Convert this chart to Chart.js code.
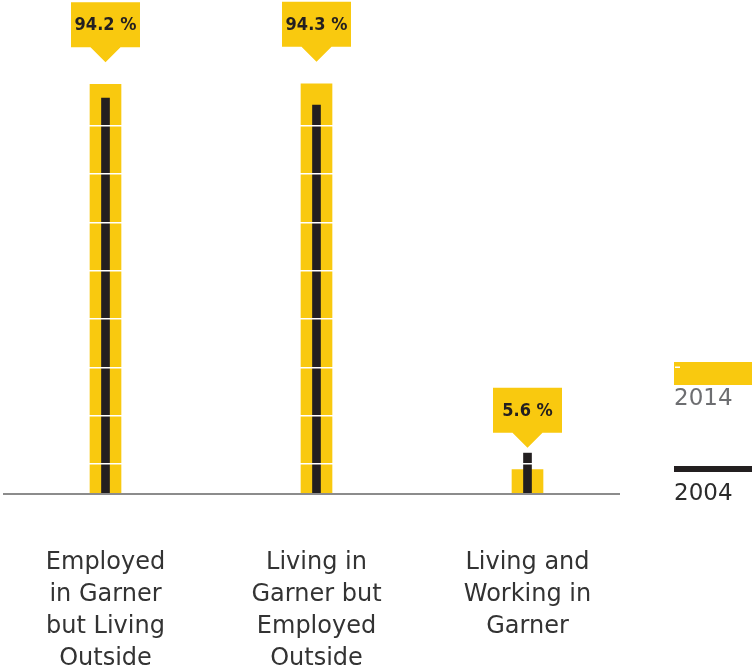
<!DOCTYPE html>
<html>
<head>
<meta charset="utf-8">
<script src="https://cdn.jsdelivr.net/npm/chart.js@4/dist/chart.umd.min.js"></script>
<style>
  html, body { margin: 0; padding: 0; background: #ffffff; }
  canvas { display: block; }
</style>
</head>
<body>
<canvas id="chart" width="752" height="669"></canvas>
<script>
// Commuting shares in Garner (percent of workers)
const categories = [
  ['Employed', 'in Garner', 'but Living', 'Outside'],
  ['Living in', 'Garner but', 'Employed', 'Outside'],
  ['Living and', 'Working in', 'Garner']
];
const seriesNames = ['2014', '2004'];
const values2014 = [94.2, 94.3, 5.6];
const values2004 = [91.0, 89.4, 9.4];

const YELLOW = '#f9c90f';
const DARK = '#231f20';
const TEXT_FONT = "'DejaVu Sans', sans-serif";
const VALUE_FONT = "'DejaVu Sans Condensed', 'DejaVu Sans', sans-serif";

// Value callouts above the 2014 bars
const calloutPlugin = {
  id: 'callouts',
  afterDraw(chart) {
    const ctx = chart.ctx;
    const meta = chart.getDatasetMeta(0);
    const data = chart.data.datasets[0].data;
    meta.data.forEach((bar, i) => {
      const cx = bar.x;
      const tipY = bar.y - 22;
      const boxW = 69, boxH = 45, arrowH = 15, arrowW = 30;
      const boxBottom = tipY - arrowH;
      const boxTop = boxBottom - boxH;
      ctx.save();
      ctx.fillStyle = YELLOW;
      ctx.beginPath();
      ctx.moveTo(cx - boxW / 2, boxTop);
      ctx.lineTo(cx + boxW / 2, boxTop);
      ctx.lineTo(cx + boxW / 2, boxBottom);
      ctx.lineTo(cx + arrowW / 2, boxBottom);
      ctx.lineTo(cx, tipY);
      ctx.lineTo(cx - arrowW / 2, boxBottom);
      ctx.lineTo(cx - boxW / 2, boxBottom);
      ctx.closePath();
      ctx.fill();
      ctx.fillStyle = DARK;
      ctx.font = 'bold 18px ' + VALUE_FONT;
      ctx.textAlign = 'center';
      ctx.textBaseline = 'middle';
      ctx.fillText(data[i].toFixed(1) + ' %', cx, boxTop + boxH / 2 + 1);
      ctx.restore();
    });
  }
};

// Grey baseline and the side legend
const framePlugin = {
  id: 'frame',
  afterDraw(chart) {
    const ctx = chart.ctx;
    const area = chart.chartArea;
    const base = chart.scales.y.getPixelForValue(0);
    ctx.save();
    ctx.strokeStyle = '#8c8c8c';
    ctx.lineWidth = 2;
    ctx.beginPath();
    ctx.moveTo(area.left + 3, base);
    ctx.lineTo(area.right - 13, base);
    ctx.stroke();

    // legend
    const lx = area.right + 41;
    const lw = chart.width - lx;
    ctx.fillStyle = chart.data.datasets[0].backgroundColor;
    ctx.fillRect(lx, 362, lw, 23);
    ctx.fillStyle = '#ffffff';
    ctx.fillRect(lx + 1, 366.5, 5, 1.5);
    ctx.font = '23px ' + TEXT_FONT;
    ctx.textAlign = 'left';
    ctx.textBaseline = 'middle';
    ctx.fillStyle = '#6d6e71';
    ctx.fillText(chart.data.datasets[0].label, lx, 399);
    ctx.fillStyle = chart.data.datasets[1].backgroundColor;
    ctx.fillRect(lx, 466, lw, 6);
    ctx.fillStyle = '#2b2b2b';
    ctx.fillText(chart.data.datasets[1].label, lx, 494);
    ctx.restore();
  }
};

new Chart(document.getElementById('chart'), {
  type: 'bar',
  data: {
    labels: categories,
    datasets: [
      {
        label: seriesNames[0],
        data: values2014,
        backgroundColor: YELLOW,
        barThickness: 31,
        grouped: false,
        order: 2,
        clip: false
      },
      {
        label: seriesNames[1],
        data: values2004,
        backgroundColor: DARK,
        barThickness: 8,
        grouped: false,
        order: 1,
        clip: false
      }
    ]
  },
  options: {
    responsive: false,
    animation: false,
    devicePixelRatio: 1,
    layout: { padding: { top: 59, left: 0, right: 119, bottom: 0 } },
    plugins: {
      legend: { display: false },
      tooltip: { enabled: false }
    },
    scales: {
      x: {
        grid: { display: false, drawTicks: false },
        border: { display: false },
        ticks: {
          color: '#333333',
          font: { family: TEXT_FONT, size: 24, lineHeight: 1.333 },
          padding: 53,
          maxRotation: 0,
          autoSkip: false
        },
        afterFit(scale) {
          scale.height = 175;
          // labels may overhang the plot edges; keep the plot full width
          scale.paddingLeft = 0;
          scale.paddingRight = 0;
        }
      },
      y: {
        display: false,
        min: 0,
        max: 100
      },
      // white separator lines laid over the bars
      g: {
        type: 'linear',
        position: 'left',
        min: -0.621,
        max: 8.385,
        ticks: { display: false, stepSize: 1 },
        border: { display: false },
        grid: {
          drawTicks: false,
          z: 1,
          lineWidth: 1.6,
          color: (c) => (c.tick && Number.isInteger(c.tick.value)) ? '#ffffff' : 'rgba(255,255,255,0)'
        }
      }
    }
  },
  plugins: [calloutPlugin, framePlugin]
});
</script>
</body>
</html>
